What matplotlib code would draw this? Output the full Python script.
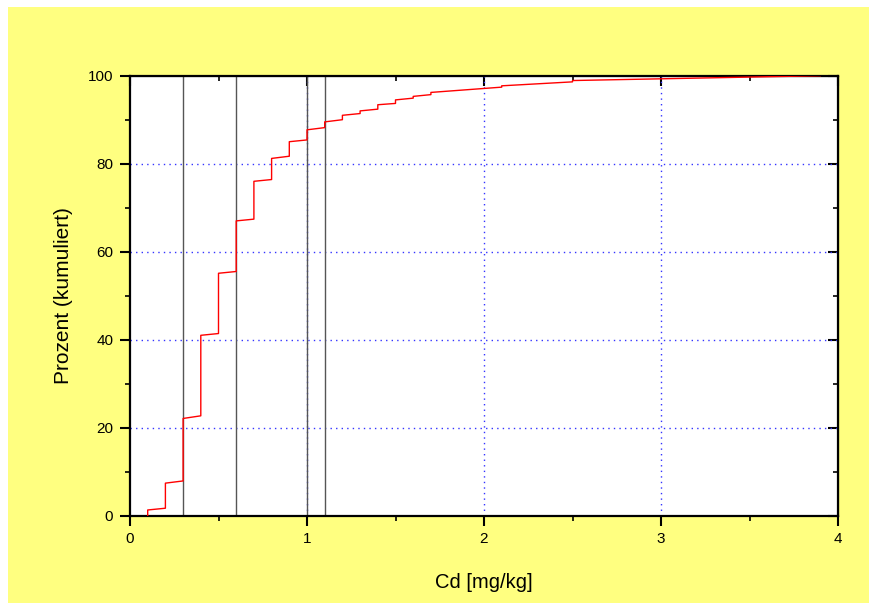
import matplotlib
matplotlib.use("Agg")
import matplotlib.pyplot as plt
from matplotlib.patches import Rectangle
from matplotlib.ticker import MultipleLocator

plt.rcParams['font.family'] = ['Liberation Sans', 'DejaVu Sans']

# cumulative distribution (Cd in mg/kg, percent cumulative)
cd_values = [0.1, 0.1, 0.2, 0.2, 0.3, 0.3, 0.4, 0.4, 0.5, 0.5, 0.6, 0.6,
             0.7, 0.7, 0.8, 0.8, 0.9, 0.9, 1.0, 1.0, 1.1, 1.1, 1.2, 1.2,
             1.3, 1.3, 1.4, 1.4, 1.5, 1.5, 1.6, 1.6, 1.7, 1.7, 2.1, 2.1,
             2.5, 2.5, 3.9]
pct_values = [0.0, 1.3, 1.7, 7.4, 7.9, 22.1, 22.7, 41.0, 41.4, 55.1, 55.5, 67.0,
              67.4, 76.0, 76.4, 81.2, 81.7, 85.0, 85.4, 87.7, 88.2, 89.5, 90.0, 91.0,
              91.4, 92.0, 92.4, 93.4, 93.7, 94.5, 94.9, 95.3, 95.7, 96.2, 97.4, 97.7,
              98.6, 98.9, 100.0]

# reference (threshold) lines
ref_lines = [0.3, 0.6, 1.0, 1.1]

x_ticks = [0, 1, 2, 3, 4]
y_ticks = [0, 20, 40, 60, 80, 100]

fig = plt.figure(figsize=(8.69, 6.04), dpi=100)
fig.patch.set_facecolor('white')
fig.patches.append(Rectangle((8 / 869, 0.002), 1 - 8 / 869, (604 - 7) / 604 - 0.002,
                             transform=fig.transFigure, facecolor='#ffff80',
                             edgecolor='none', zorder=-10))

ax = fig.add_axes([130 / 869, (604 - 515.7) / 604, (838 - 130) / 869, (515.7 - 75.7) / 604])
ax.set_zorder(5)
ax.set_facecolor('white')
ax.set_xlim(0, 4)
ax.set_ylim(0, 100)

ax.set_xticks(x_ticks)
ax.set_yticks(y_ticks)
ax.xaxis.set_minor_locator(MultipleLocator(0.5))
ax.yaxis.set_minor_locator(MultipleLocator(10))

# grid
for gx in [1, 2, 3]:
    ax.axvline(gx, color='#3333ff', lw=1, ls=(0, (1, 3)), zorder=1)
for gy in [20, 40, 60, 80]:
    ax.axhline(gy, color='#3333ff', lw=1, ls=(0, (1, 3)), zorder=1)

for rx in ref_lines:
    ax.axvline(rx, color='#555555', lw=1.0, zorder=2)

ax.plot(cd_values, pct_values, color='red', lw=1.0, zorder=3)

for s in ax.spines.values():
    s.set_linewidth(1.6)
    s.set_color('black')

ax.tick_params(which='major', direction='out', length=7, width=1.5, labelsize=11, pad=5,
               top=False, right=False)
ax.tick_params(which='minor', direction='out', length=3.5, width=1.2, top=False, right=False)

secx = ax.secondary_xaxis('top')
secx.set_xticks(x_ticks)
secx.xaxis.set_minor_locator(MultipleLocator(0.5))
secx.tick_params(which='major', direction='in', length=7, width=1.5, labeltop=False)
secx.tick_params(which='minor', direction='in', length=3.5, width=1.2)
secx.set_xticklabels([])

secy = ax.secondary_yaxis('right')
secy.set_yticks(y_ticks)
secy.yaxis.set_minor_locator(MultipleLocator(10))
secy.tick_params(which='major', direction='in', length=7, width=1.5, labelright=False)
secy.tick_params(which='minor', direction='in', length=3.5, width=1.2)
secy.set_yticklabels([])

ax.set_xlabel('Cd [mg/kg]', fontsize=14.5, labelpad=19)
ax.set_ylabel('Prozent (kumuliert)', fontsize=15, labelpad=11)

fig.savefig('out.png', dpi=100, facecolor=fig.get_facecolor())
